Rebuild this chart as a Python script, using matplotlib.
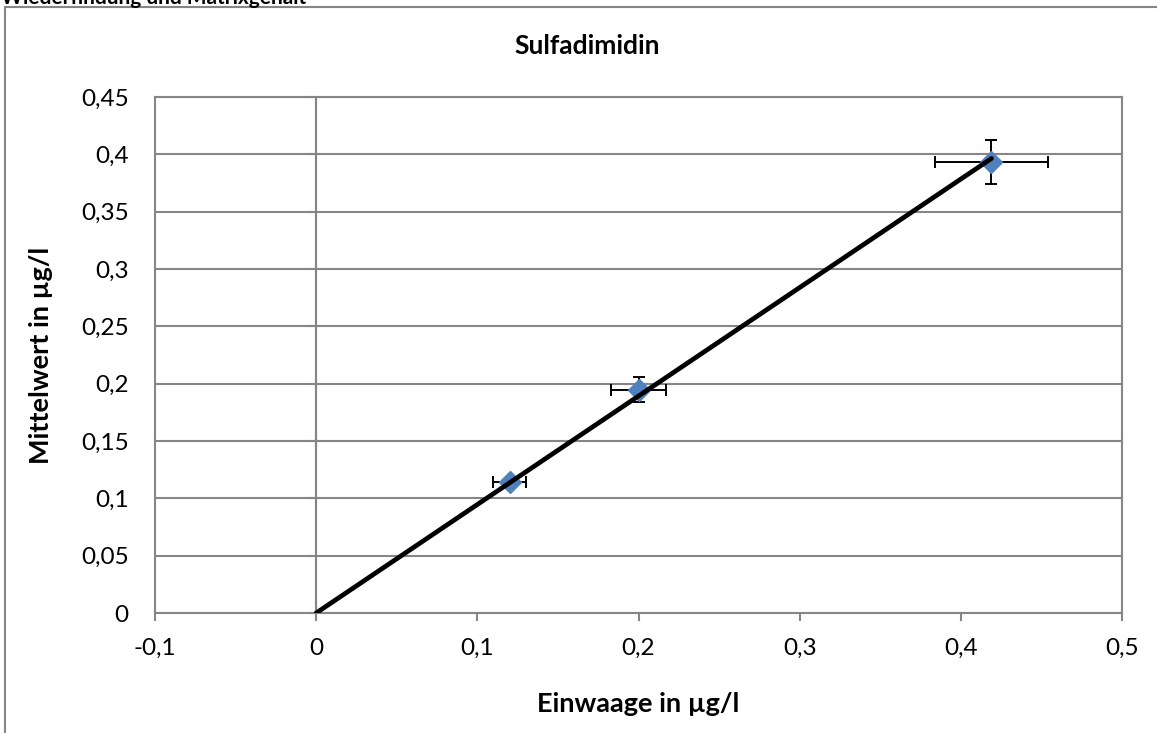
import matplotlib
matplotlib.use("Agg")
import matplotlib.pyplot as plt
from matplotlib.ticker import FuncFormatter, MultipleLocator
from matplotlib.patches import Rectangle

plt.rcParams['font.family'] = ['Lato', 'DejaVu Sans']

# Sulfadimidin: nominal amount vs. measured mean
einwaage = [0.12, 0.20, 0.419]
mittelwert = [0.114, 0.1948, 0.3936]
x_err = [0.0102, 0.017, 0.035]
y_err = [0.004, 0.011, 0.0192]

sheet_title = "Wiederfindung und Matrixgehalt"
chart_title = "Sulfadimidin"
x_label = "Einwaage in µg/l"
y_label = "Mittelwert in µg/l"

# linear fit through the origin
sxy = sum(a * b for a, b in zip(einwaage, mittelwert))
sxx = sum(a * a for a in einwaage)
slope = sxy / sxx
fit_x = [0.0, max(einwaage)]
fit_y = [slope * v for v in fit_x]

W, H = 1157, 733
fig = plt.figure(figsize=(W / 100, H / 100), dpi=100)
ax = fig.add_axes([155 / W, 1 - 613 / H, (1122 - 155) / W, (613 - 97) / H])

grid_c = "#868686"
lw = 1.5

# chart area border (runs off the right and bottom of the page)
fig.patches.append(Rectangle((5 / W, -0.05), 1.2, 1 - 7 / H + 0.05,
                             transform=fig.transFigure, fill=False,
                             edgecolor=grid_c, linewidth=lw, zorder=0))

fig.text(1 / W, 1 - 4 / H, sheet_title, fontsize=15, fontweight='bold',
         ha='left', va='baseline', color='black')

ax.set_xlim(-0.1, 0.5)
ax.set_ylim(0, 0.45)
ax.xaxis.set_major_locator(MultipleLocator(0.1))
ax.yaxis.set_major_locator(MultipleLocator(0.05))


def comma(v, pos):
    if abs(v) < 1e-9:
        return "0"
    return ("%g" % round(v, 3)).replace('.', ',')


ax.xaxis.set_major_formatter(FuncFormatter(comma))
ax.yaxis.set_major_formatter(FuncFormatter(comma))

ax.grid(axis='y', color=grid_c, linewidth=lw)
ax.set_axisbelow(True)
for s in ax.spines.values():
    s.set_color(grid_c)
    s.set_linewidth(lw)

ax.tick_params(axis='x', direction='out', length=6, width=lw, color=grid_c,
               labelsize=17.5, pad=12)
ax.tick_params(axis='y', length=0, labelsize=17.5, pad=19)

# vertical value axis crossing at x = 0
ax.axvline(0, color=grid_c, linewidth=lw, zorder=1)
sec = ax.secondary_yaxis(1 / 6)
sec.yaxis.set_major_locator(MultipleLocator(0.05))
sec.tick_params(axis='y', direction='out', length=6, width=lw, color=grid_c,
                labelleft=False)
sec.spines['left'].set_color(grid_c)
sec.spines['left'].set_linewidth(lw)

ax.errorbar(einwaage, mittelwert, xerr=x_err, yerr=y_err, fmt='none',
            ecolor='black', elinewidth=1.4, capsize=4.5, capthick=1.4, zorder=3)
ax.plot(einwaage, mittelwert, linestyle='none', marker='D', markersize=11,
        color='#4F81BD', markeredgecolor='#4F81BD', zorder=4)
ax.plot(fit_x, fit_y, color='black', linewidth=3.4, solid_capstyle='round',
        zorder=5)

fig.text(587 / W, 1 - 46 / H, chart_title, fontsize=19, fontweight='bold',
         ha='center', va='center')
ax.set_xlabel(x_label, fontsize=19.5, fontweight='bold', labelpad=24)
ax.set_ylabel(y_label, fontsize=19.5, fontweight='bold', labelpad=20)

fig.savefig("out.png", dpi=100)
